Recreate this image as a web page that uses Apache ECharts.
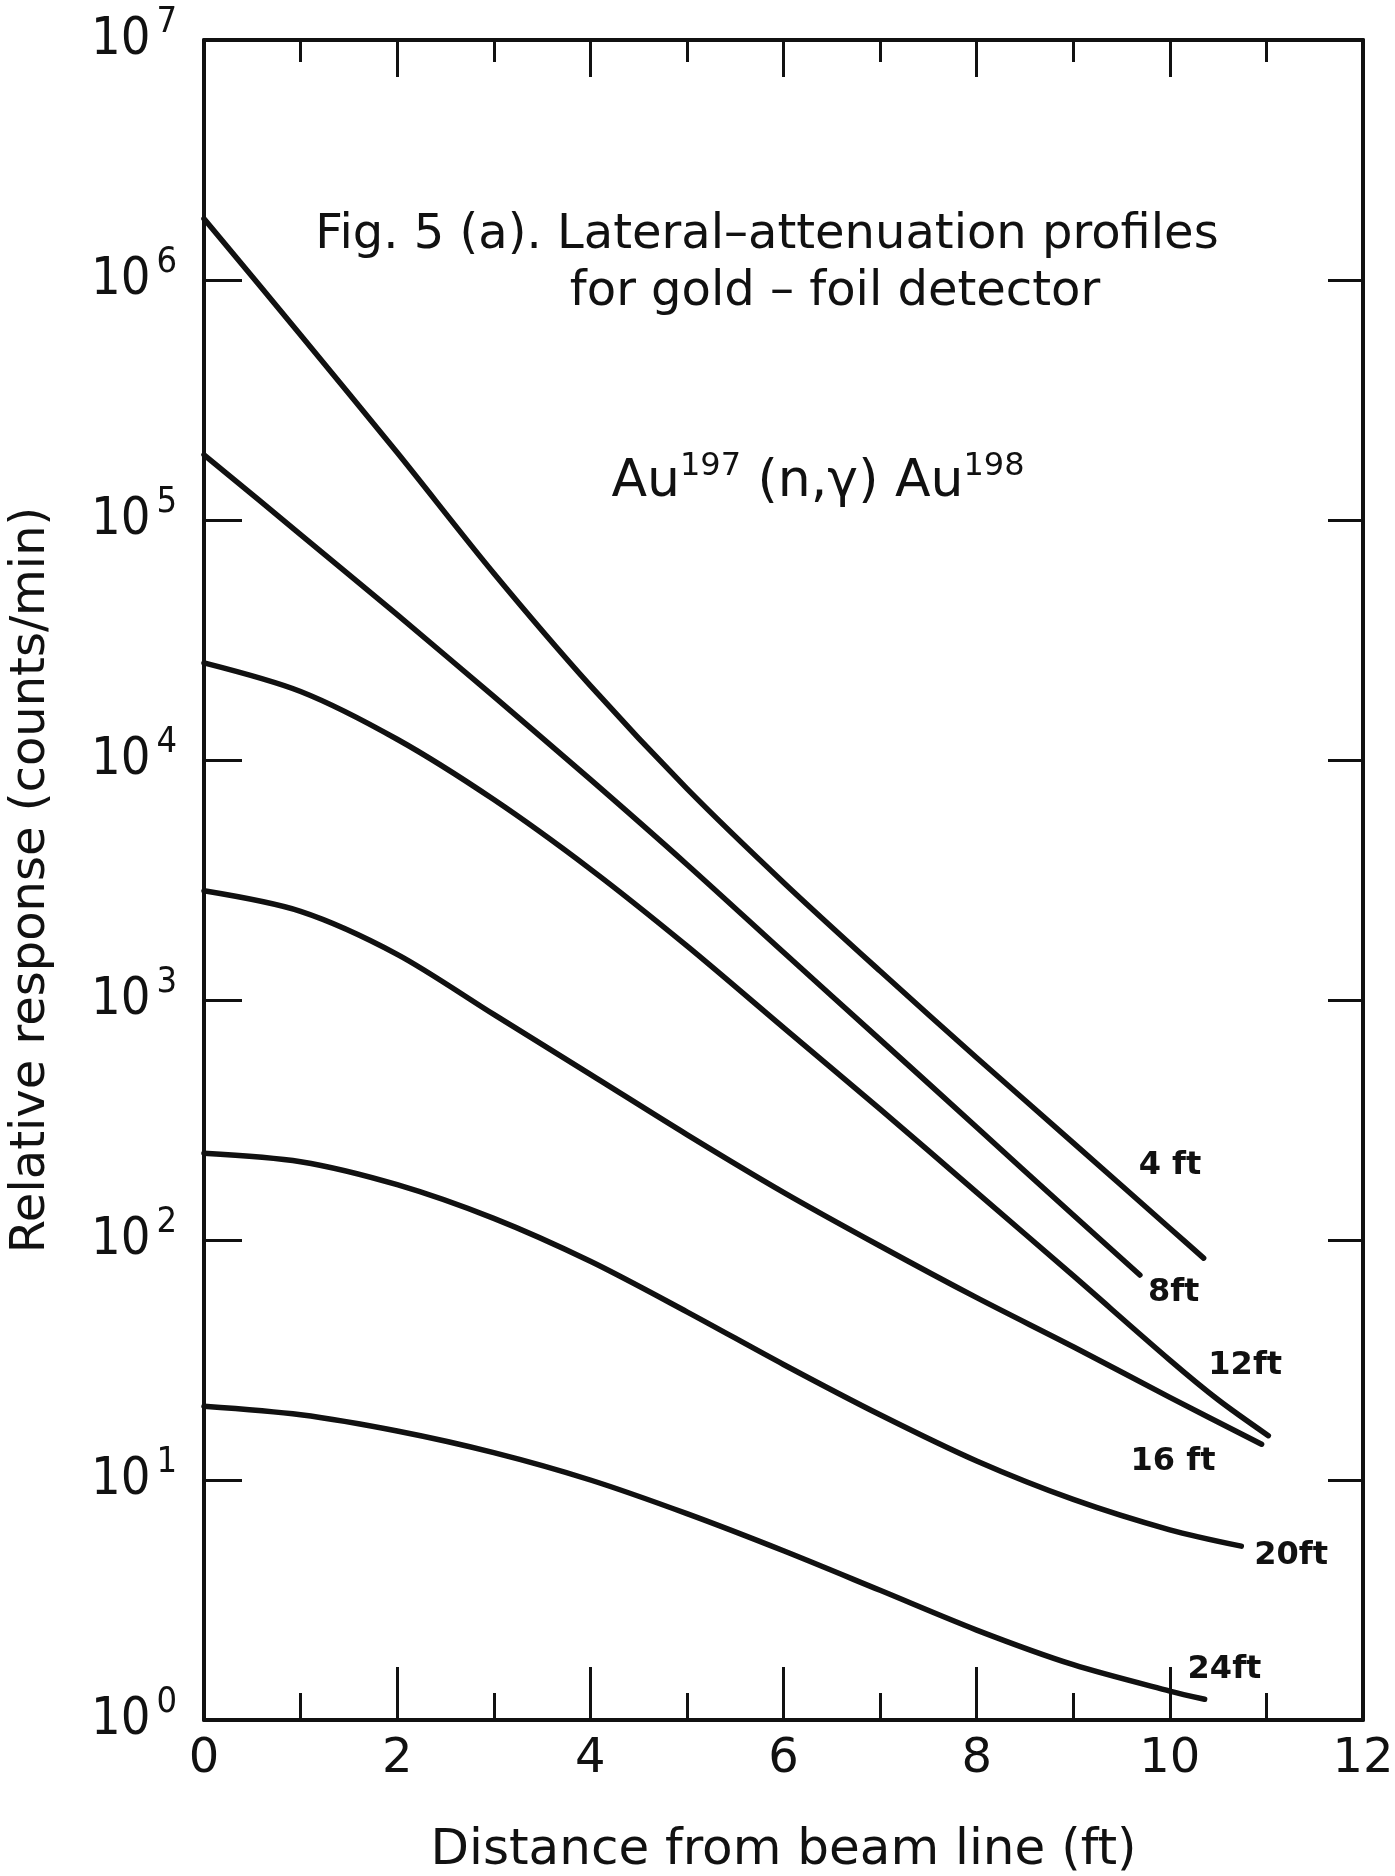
<!DOCTYPE html>
<html>
<head>
<meta charset="utf-8">
<title>Lateral-attenuation profiles for gold-foil detector</title>
<script src="https://cdn.jsdelivr.net/npm/echarts@6/dist/echarts.min.js"></script>
<style>
  html, body { margin: 0; padding: 0; background: #ffffff; }
  #chart { width: 1395px; height: 1876px; }
</style>
</head>
<body>
<div id="chart"></div>
<script>
// Distance from beam line (ft) and relative response (counts/min) for each curve
const x4ft  = [0, 1, 2, 3, 4, 5, 6, 7, 8, 9, 10, 10.35];
const y4ft  = [1.80e6, 5.9e5, 1.91e5, 6.0e4, 2.04e4, 7.6e3, 3.09e3, 1.32e3, 575, 254, 112, 84];

const x8ft  = [0, 1, 2, 3, 4, 5, 6, 7, 8, 9, 9.69];
const y8ft  = [1.87e5, 8.7e4, 4.03e4, 1.84e4, 8.3e3, 3.67e3, 1.58e3, 684, 295, 127, 71.5];

const x12ft = [0, 1, 2, 3, 4, 5, 6, 7, 8, 9, 10, 10.5, 11.02];
const y12ft = [2.54e4, 1.93e4, 1.22e4, 6.84e3, 3.51e3, 1.68e3, 767, 351, 158, 71, 31.6, 21.6, 15.3];

const x16ft = [0, 1, 2, 3, 4, 5, 6, 7, 8, 9, 10, 10.95];
const y16ft = [2.85e3, 2.34e3, 1.55e3, 871, 490, 275, 158, 94.4, 57.5, 35.9, 22.1, 14.1];

const x20ft = [0, 1, 2, 3, 4, 5, 6, 7, 8, 9, 10, 10.74];
const y20ft = [230, 212, 170, 123, 81.5, 50.2, 30.3, 18.7, 12.0, 8.3, 6.2, 5.3];

const x24ft = [0, 1, 2, 3, 4, 5, 6, 7, 8, 9, 10, 10.36];
const y24ft = [20.3, 18.7, 16.0, 13.0, 10.0, 7.24, 5.07, 3.47, 2.37, 1.70, 1.32, 1.22];

const curveNames = ['4 ft', '8ft', '12ft', '16 ft', '20ft', '24ft'];
const xTickLabels = ['0', '2', '4', '6', '8', '10', '12'];

const FONT = '"DejaVu Sans", "Liberation Sans", sans-serif';
const NARROW = '"Liberation Sans Narrow", "DejaVu Sans Condensed", "DejaVu Sans", sans-serif';
const INK = '#111111';

function pairs(xs, ys) {
  return xs.map((x, i) => [x, ys[i]]);
}

// where each curve's name sits relative to the curve's last point
const endLabelOffsets = [
  [-65, -92],
  [8, 18],
  [-60, -70],
  [-131, 18],
  [13, 10],
  [-17, -30]
];

const curves = [
  pairs(x4ft, y4ft),
  pairs(x8ft, y8ft),
  pairs(x12ft, y12ft),
  pairs(x16ft, y16ft),
  pairs(x20ft, y20ft),
  pairs(x24ft, y24ft)
];

const series = curves.map((data, i) => ({
  name: curveNames[i],
  type: 'line',
  data: data,
  smooth: 0.3,
  symbol: 'none',
  lineStyle: { color: INK, width: 5.5, cap: 'round', join: 'round' },
  endLabel: {
    show: true,
    formatter: curveNames[i],
    distance: 0,
    offset: endLabelOffsets[i],
    align: 'left',
    verticalAlign: 'middle',
    color: INK,
    fontFamily: FONT,
    fontSize: 32,
    fontWeight: 'bold'
  },
  silent: true,
  animation: false
}));

const chart = echarts.init(document.getElementById('chart'), null, { renderer: 'canvas' });

const frameLine = { show: true, onZero: false, lineStyle: { color: INK, width: 4 } };

chart.setOption({
  backgroundColor: '#ffffff',
  animation: false,
  grid: { left: 204, right: 32, top: 40, bottom: 156, containLabel: false, outerBoundsMode: 'none' },
  xAxis: [
    {
      type: 'value',
      position: 'bottom',
      min: 0, max: 12, interval: 2,
      axisLine: frameLine,
      axisTick: { show: true, inside: true, length: 53, lineStyle: { color: INK, width: 3 } },
      minorTick: { show: true, splitNumber: 2, length: 27, lineStyle: { color: INK, width: 3 } },
      splitLine: { show: false },
      axisLabel: {
        margin: 16, color: INK, fontFamily: FONT, fontSize: 48,
        formatter: (v) => xTickLabels[Math.round(v / 2)]
      },
      name: 'Distance from beam line (ft)',
      nameLocation: 'middle',
      nameGap: 106,
      nameTextStyle: { color: INK, fontFamily: FONT, fontSize: 50 }
    },
    {
      type: 'value',
      position: 'top',
      min: 0, max: 12, interval: 2,
      axisLine: frameLine,
      axisTick: { show: true, inside: true, length: 37, lineStyle: { color: INK, width: 3 } },
      minorTick: { show: true, splitNumber: 2, length: 22, lineStyle: { color: INK, width: 3 } },
      splitLine: { show: false },
      axisLabel: { show: false }
    }
  ],
  yAxis: [
    {
      type: 'log',
      logBase: 10,
      position: 'left',
      min: 1, max: 1e7,
      splitNumber: 7,
      axisLine: frameLine,
      axisTick: { show: true, inside: true, length: 38, lineStyle: { color: INK, width: 3 } },
      minorTick: { show: false },
      splitLine: { show: false },
      axisLabel: {
        margin: 27,
        color: INK,
        formatter: (v) => '{b|10}{e|' + Math.round(Math.log10(v)) + '}',
        rich: {
          b: { fontFamily: NARROW, fontSize: 52, lineHeight: 70, color: INK },
          e: { fontFamily: NARROW, fontSize: 36, lineHeight: 36, verticalAlign: 'top', padding: [0, 0, 0, 6], color: INK }
        }
      },
      name: 'Relative response (counts/min)',
      nameLocation: 'middle',
      nameRotate: 90,
      nameGap: 148,
      nameTextStyle: { color: INK, fontFamily: FONT, fontSize: 48 }
    },
    {
      type: 'log',
      logBase: 10,
      position: 'right',
      min: 1, max: 1e7,
      splitNumber: 7,
      axisLine: frameLine,
      axisTick: { show: true, inside: true, length: 35, lineStyle: { color: INK, width: 3 } },
      minorTick: { show: false },
      splitLine: { show: false },
      axisLabel: { show: false }
    }
  ],
  graphic: [
    {
      type: 'text', x: 767, y: 236,
      style: {
        text: 'Fig. 5 (a). Lateral–attenuation profiles',
        fill: INK, font: '48px ' + FONT, align: 'center', verticalAlign: 'middle'
      }
    },
    {
      type: 'text', x: 835, y: 293,
      style: {
        text: 'for gold – foil detector',
        fill: INK, font: '48px ' + FONT, align: 'center', verticalAlign: 'middle'
      }
    },
    {
      type: 'text', x: 818, y: 482,
      style: {
        text: '{m|Au}{s|197}{m| (n,γ) Au}{s|198}',
        fill: INK, align: 'center', verticalAlign: 'middle',
        rich: {
          m: { fontFamily: FONT, fontSize: 52, lineHeight: 62, fill: INK },
          s: { fontFamily: FONT, fontSize: 32, lineHeight: 32, verticalAlign: 'top', fill: INK }
        }
      }
    }
  ],
  series: series
});
</script>
</body>
</html>
